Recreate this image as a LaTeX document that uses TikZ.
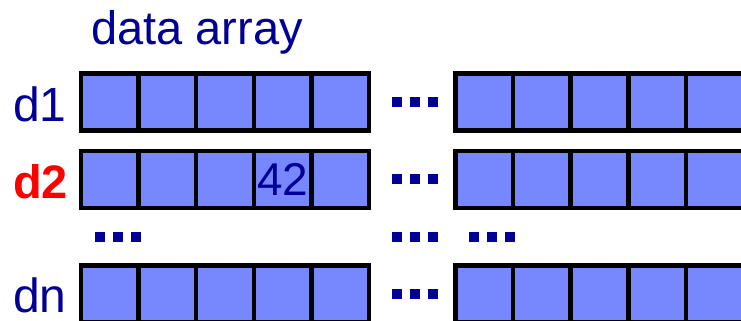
\documentclass[tikz,border=0pt]{standalone}
\usepackage{fontspec}
\setmainfont{Liberation Sans}
\definecolor{cellblue}{RGB}{119,136,255}
\definecolor{textblue}{RGB}{0,0,153}
\definecolor{labelred}{RGB}{255,0,0}
\begin{document}
\begin{tikzpicture}[x=1pt,y=-1pt,
  cell/.style={draw=black, fill=cellblue, line width=4.5pt, minimum width=57.6pt, minimum height=57pt, inner sep=0pt},
  dotsq/.style={fill=textblue, minimum size=10pt, inner sep=0pt},
  bigfont/.style={font=\fontsize{46}{50}\selectfont},
  lblfont/.style={font=\fontsize{48}{52}\selectfont},
  lbl/.style={lblfont, text=textblue, anchor=base west, inner sep=0pt}]
\useasboundingbox (0,0) rectangle (741,321);
\clip (0,0) rectangle (741,321);
% cells
\foreach \r/\y in {1/102,2/179.25,n/293.75}{
  \foreach \c/\x in {1/109.8,2/167.4,3/225,4/282.6,5/340.2}
    \node[cell] (l\r c\c) at (\x,\y) {};
  \foreach \c/\x in {1/484.3,2/541.9,3/599.5,4/657.1,5/714.7}
    \node[cell] (r\r c\c) at (\x,\y) {};
  \foreach \k/\x in {1/397,2/415,3/433}
    \node[dotsq] (g\r d\k) at (\x,\y) {};
}
% middle row of dots
\foreach \k/\x in {1/100,2/118,3/136}
  \node[dotsq] (ma\k) at (\x,237) {};
\foreach \k/\x in {1/397,2/415,3/433}
  \node[dotsq] (mb\k) at (\x,237) {};
\foreach \k/\x in {1/474,2/492,3/510}
  \node[dotsq] (mc\k) at (\x,237) {};
% value
\node[bigfont, text=textblue, inner sep=0pt] (v42) at (l2c4) {42};
% labels
\node[lbl, font=\fontsize{47}{51}\selectfont] (title) at (91,45) {data array};
\node[lbl] (ld1) at (13,121) {d1};
\node[lbl, text=labelred, font=\fontsize{47}{51}\selectfont\bfseries] (ld2) at (13,198) {d2};
\node[lbl] (ldn) at (13,312) {dn};
\end{tikzpicture}
\end{document}
